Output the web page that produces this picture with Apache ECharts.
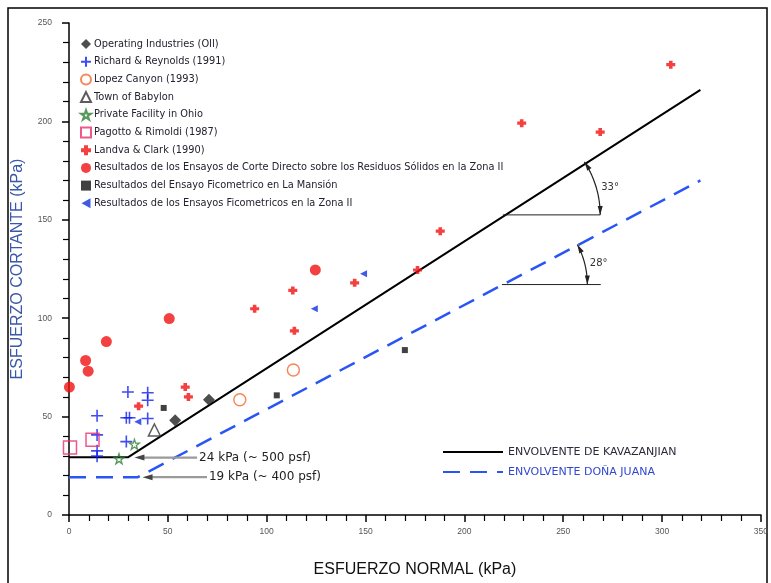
<!DOCTYPE html>
<html>
<head>
<meta charset="utf-8">
<script src="https://cdn.jsdelivr.net/npm/echarts@6/dist/echarts.min.js"></script>
<style>
html, body { margin: 0; padding: 0; background: #fff; }
#chart { width: 771px; height: 583px; }
</style>
</head>
<body>
<div id="chart"></div>
<script>
// puntos (esfuerzo normal, esfuerzo cortante) en kPa
var oii = [[53.7, 48.2], [70.8, 58.5]];
var richard = [[29.8, 62.5], [39.8, 62.1], [39.8, 58.3], [14.2, 50.4], [14.2, 40.7], [14.2, 32.6],
               [14.2, 29.9], [29.0, 49.4], [30.6, 49.4], [39.8, 49.0], [29.0, 37.3]];
var lopez = [[86.4, 58.6], [113.5, 73.7]];
var babylon = [[43.2, 43.2]];
var ohio = [[25.3, 28.6], [33.1, 35.9]];
var pagotto = [[0.5, 34.3], [11.9, 38.2]];
var landva = [[304.4, 228.8], [229.0, 199.1], [268.7, 194.6], [187.8, 144.2], [176.3, 124.5],
              [144.5, 118.0], [113.2, 114.1], [114.0, 93.6], [93.9, 104.8], [58.8, 65.0],
              [60.4, 60.0], [35.2, 55.3]];
var corteZona2 = [[0.2, 65.0], [8.4, 78.5], [9.7, 73.1], [18.9, 88.1], [50.7, 99.8], [124.6, 124.5]];
var mansion = [[47.9, 54.4], [105.1, 60.8], [169.9, 83.8]];
var ficoZona2 = [[149.0, 122.6], [124.1, 104.8], [34.8, 47.4]];

// envolventes
var kavazanjian = [[0, 29.3], [29.8, 29.3], [319.4, 216.0]];
var donaJuana = [[0, 19.2], [34.8, 19.2], [319.4, 170.0]];

// anotaciones de angulo: vertice, fin de la linea horizontal, radio del arco, grados
var angleVertex = [[219.5, 152.5], [219.0, 117.1]];
var angleLineEnd = [268.7, 269.0];
var angleRadius = [49.2, 43.2];
var angleDeg = [33, 28];
var angleText = ['33°', '28°'];

// flechas de cohesion
var calloutY = [29.2, 19.2];
var calloutFrom = [33.1, 37.2];
var calloutTo = [64.8, 69.8];
var calloutText = ['24 kPa (~ 500 psf)', '19 kPa (~ 400 psf)'];

var xTicks = [0, 350, 50];
var yTicks = [0, 250, 50];

var legendNames = [
    'Operating Industries (OII)',
    'Richard & Reynolds (1991)',
    'Lopez Canyon (1993)',
    'Town of Babylon',
    'Private Facility in Ohio',
    'Pagotto & Rimoldi (1987)',
    'Landva & Clark (1990)',
    'Resultados de los Ensayos de Corte Directo sobre los Residuos Sólidos en la Zona II',
    'Resultados del Ensayo Ficometrico en La Mansión',
    'Resultados de los Ensayos Ficometricos en la Zona II'
];
var envNames = ['ENVOLVENTE DE KAVAZANJIAN', 'ENVOLVENTE DOÑA JUANA'];

var plusPath = 'path://M0,5L10,5M5,0L5,10';
var fatCross = 'path://M3,0L7,0L7,3L10,3L10,7L7,7L7,10L3,10L3,7L0,7L0,3L3,3Z';
var starPath = 'path://M5,0L6.2,3.6L10,3.6L6.9,5.9L8.1,9.5L5,7.3L1.9,9.5L3.1,5.9L0,3.6L3.8,3.6Z';
var leftTri = 'path://M0,5L9,0L9,10Z';

var fontFam = '"Liberation Sans", Arial, sans-serif';
var wideFam = '"DejaVu Sans", Verdana, sans-serif';

function arrowHead(tip, dx, dy, len, half, color) {
    var bx = tip[0] - dx * len, by = tip[1] - dy * len;
    return {
        type: 'polygon',
        shape: { points: [tip, [bx - dy * half, by + dx * half], [bx + dy * half, by - dx * half]] },
        style: { fill: color }
    };
}

function renderAngle(params, api) {
    var vx = api.value(0), vy = api.value(1), end = api.value(2), r = api.value(3), deg = api.value(4);
    var p0 = api.coord([vx, vy]);
    var p1 = api.coord([end, vy]);
    var rr = api.coord([vx + r, vy])[0] - p0[0];
    var pts = [];
    for (var i = 0; i <= 30; i++) {
        var a = deg * Math.PI / 180 * i / 30;
        pts.push([p0[0] + rr * Math.cos(a), p0[1] - rr * Math.sin(a)]);
    }
    var aTop = deg * Math.PI / 180;
    var mid = aTop / 2;
    return {
        type: 'group',
        children: [
            { type: 'line', shape: { x1: p0[0], y1: p0[1], x2: p1[0], y2: p1[1] }, style: { stroke: '#222', lineWidth: 1 } },
            { type: 'polyline', shape: { points: pts }, style: { stroke: '#222', lineWidth: 1.2, fill: null } },
            arrowHead(pts[0], 0, 1, 9, 2.5, '#222'),
            arrowHead(pts[30], -Math.sin(aTop), -Math.cos(aTop), 9, 2.5, '#222'),
            {
                type: 'text',
                x: p0[0] + rr * Math.cos(mid) + 5,
                y: p0[1] - rr * Math.sin(mid),
                style: { text: angleText[params.dataIndex], fill: '#333', font: '10px ' + wideFam, verticalAlign: 'middle', align: 'left' }
            }
        ]
    };
}

function renderCallout(params, api) {
    var pa = api.coord([api.value(0), api.value(2)]);
    var pb = api.coord([api.value(1), api.value(2)]);
    return {
        type: 'group',
        children: [
            { type: 'line', shape: { x1: pa[0] + 6, y1: pa[1], x2: pb[0], y2: pb[1] }, style: { stroke: '#9a9a9a', lineWidth: 2.2 } },
            arrowHead(pa, -1, 0, 10, 3, '#444'),
            {
                type: 'text',
                x: pb[0] + 2,
                y: pb[1],
                style: { text: calloutText[params.dataIndex], fill: '#222', font: '12px ' + wideFam, verticalAlign: 'middle', align: 'left' }
            }
        ]
    };
}

function scatter(name, data, symbol, size, itemStyle) {
    return {
        name: name,
        type: 'scatter',
        data: data,
        symbol: symbol,
        symbolSize: size,
        itemStyle: itemStyle,
        z: 4
    };
}

var chart = echarts.init(document.getElementById('chart'));

var option = {
    animation: false,
    backgroundColor: '#fff',
    textStyle: { fontFamily: fontFam },
    grid: { left: 69, right: 5, top: 23, bottom: 64 },
    xAxis: {
        type: 'value',
        min: xTicks[0], max: xTicks[1], interval: xTicks[2],
        name: 'ESFUERZO NORMAL (kPa)',
        nameLocation: 'middle',
        nameGap: 47,
        nameTextStyle: { fontSize: 16, color: '#111', fontFamily: '"Liberation Sans Narrow", "Liberation Sans", sans-serif' },
        axisLine: { onZero: false, lineStyle: { color: '#000', width: 1.5 } },
        axisTick: { length: 7, lineStyle: { color: '#000', width: 1.5 } },
        minorTick: { show: true, splitNumber: 5, length: 6, lineStyle: { color: '#000', width: 1.2 } },
        axisLabel: { fontSize: 8.5, color: '#555', margin: 12 },
        splitLine: { show: false }
    },
    yAxis: {
        type: 'value',
        min: yTicks[0], max: yTicks[1], interval: yTicks[2],
        name: 'ESFUERZO CORTANTE (kPa)',
        nameLocation: 'middle',
        nameGap: 43,
        nameTextStyle: { fontSize: 16, color: '#3a58a8' },
        axisLine: { onZero: false, lineStyle: { color: '#000', width: 1.5 } },
        axisTick: { length: 7, lineStyle: { color: '#000', width: 1.5 } },
        minorTick: { show: true, splitNumber: 5, length: 6, lineStyle: { color: '#000', width: 1.2 } },
        axisLabel: { fontSize: 8.5, color: '#555', margin: 17 },
        splitLine: { show: false }
    },
    legend: [
        {
            data: legendNames,
            orient: 'vertical',
            left: 75,
            top: 33,
            itemWidth: 10,
            itemHeight: 10,
            itemGap: 5.7,
            textStyle: { fontSize: 9.8, lineHeight: 12, fontFamily: wideFam, color: '#222230', padding: [0, 0, 0, -2] }
        },
        {
            data: [
                { name: envNames[0], textStyle: { color: '#2a2a3a' } },
                { name: envNames[1], textStyle: { color: '#3048d0' } }
            ],
            orient: 'vertical',
            left: 437,
            top: 441,
            itemWidth: 60,
            itemHeight: 10,
            itemGap: 8,
            itemStyle: { opacity: 0 },
            textStyle: { fontSize: 11, lineHeight: 12, fontFamily: wideFam, padding: [0, 0, 0, 0] }
        }
    ],
    graphic: [
        {
            type: 'rect',
            shape: { x: 8, y: 8, width: 759, height: 600 },
            style: { fill: null, stroke: '#000', lineWidth: 1.5 },
            silent: true
        }
    ],
    series: [
        {
            name: envNames[0],
            type: 'line',
            data: kavazanjian,
            symbol: 'none',
            lineStyle: { color: '#000', width: 2 },
            itemStyle: { color: '#000' },
            z: 2
        },
        {
            name: envNames[1],
            type: 'line',
            data: donaJuana,
            symbol: 'none',
            lineStyle: { color: '#2a55f5', width: 2.5, type: [17, 10] },
            itemStyle: { color: '#2a55f5' },
            z: 2
        },
        {
            type: 'custom',
            renderItem: renderAngle,
            data: angleVertex.map(function (v, i) {
                return [v[0], v[1], angleLineEnd[i], angleRadius[i], angleDeg[i]];
            }),
            silent: true,
            z: 3
        },
        {
            type: 'custom',
            renderItem: renderCallout,
            data: calloutY.map(function (y, i) {
                return [calloutFrom[i], calloutTo[i], y];
            }),
            silent: true,
            z: 3
        },
        scatter(legendNames[0], oii, 'diamond', 12, { color: '#222' }),
        scatter(legendNames[1], richard, plusPath, 12, { color: 'transparent', borderColor: '#1020ee', borderWidth: 1.6 }),
        scatter(legendNames[2], lopez, 'circle', 12, { color: 'transparent', borderColor: '#f26a30', borderWidth: 1.5 }),
        scatter(legendNames[3], babylon, 'triangle', 12, { color: 'transparent', borderColor: '#333', borderWidth: 1.5 }),
        scatter(legendNames[4], ohio, starPath, 10, { color: 'transparent', borderColor: '#2e7d32', borderWidth: 1.3 }),
        scatter(legendNames[5], pagotto, 'rect', 13, { color: 'transparent', borderColor: '#e8306e', borderWidth: 1.5 }),
        scatter(legendNames[6], landva, fatCross, [9, 8], { color: '#f01010' }),
        scatter(legendNames[7], corteZona2, 'circle', 11, { color: '#f01010' }),
        scatter(legendNames[8], mansion, 'rect', 6, { color: '#111' }),
        scatter(legendNames[9], ficoZona2, leftTri, [7, 7], { color: '#1030e0' })
    ]
};

chart.setOption(option);
</script>
</body>
</html>
